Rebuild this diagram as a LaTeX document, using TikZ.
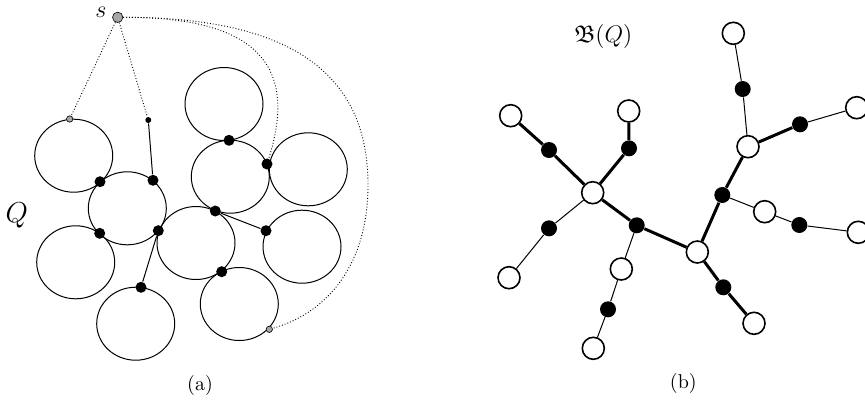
\documentclass[tikz,border=0pt]{standalone}
\usepackage{amsmath,amssymb}
\usepackage{tikz}
\usetikzlibrary{positioning}

\begin{document}
\begin{tikzpicture}[
  x=0.5pt, y=-0.5pt,
  blob/.style={line width=0.5pt},
  cut/.style={circle, fill=black, inner sep=0pt, minimum size=5.5pt},
  tip/.style={circle, fill=black, inner sep=0pt, minimum size=3pt},
  root/.style={circle, draw=black, fill=gray!70, line width=0.3pt, inner sep=0pt, minimum size=5.2pt},
  rtip/.style={root, minimum size=3.2pt},
  bnode/.style={circle, draw, fill=white, line width=0.8pt, inner sep=0pt, minimum size=11pt},
  cnode/.style={circle, fill=black, inner sep=0pt, minimum size=8pt},
  weak/.style={line width=0.5pt},
  strong/.style={line width=1.5pt},
  link/.style={densely dotted, line width=0.45pt},
  lab/.style={inner sep=1pt}
]
\clip (0,0) rectangle (865,402);
% (a): the blocks of Q
\foreach \cx/\cy in {73.7/155.7, 127.3/208.3, 75.7/262.3, 135.7/323.7, 196/243,
                     224/104, 230.3/176.7, 308.3/169.3, 302/246.7, 239.3/304}
  \draw[blob] (\cx,\cy) ellipse (39 and 36.5);
\node[root] (s) at (117.7,17.3) {};
\node[lab, font=\large] (slab) at (101,12.5) {$s$};
\node[lab, font=\Large] (Q) at (16.7,215) {$Q$};
\node[rtip] (g1) at (69.7,119) {};
\node[rtip] (g2) at (269.3,329.3) {};
\node[tip] (t1) at (148.3,120) {};
\node[cut] (d1) at (100,181.7) {};
\node[cut] (d2) at (153,180.3) {};
\node[cut] (d3) at (99.7,233.3) {};
\node[cut] (d4) at (158.3,230.7) {};
\node[cut] (d5) at (141,287.3) {};
\node[cut] (d6) at (229,140.3) {};
\node[cut] (d7) at (267,164) {};
\node[cut] (d8) at (215.3,211) {};
\node[cut] (d9) at (266,230.7) {};
\node[cut] (d10) at (221.7,271.7) {};
\draw[weak] (t1) -- (d2);
\draw[weak] (d4) -- (d5);
\draw[weak] (d8) -- (d9);
\draw[link] (s) -- (g1);
\draw[link] (s) -- (t1);
\draw[link] (s) .. controls (250,17) and (300,60) .. (d7);
\draw[link] (s) .. controls (300,17) and (368,80) .. (368,185)
                .. controls (368,262) and (330,312) .. (g2);
\node[lab] (capa) at (200,385) {(a)};
% (b): the block tree
\node[lab, font=\large] (BQ) at (603.3,36.7) {$\mathfrak{B}(Q)$};
\node[bnode] (w1) at (510.7,115.7) {};
\node[bnode] (w2) at (628.7,111) {};
\node[bnode] (w3) at (592.7,192.7) {};
\node[bnode] (w4) at (509,277.7) {};
\node[bnode] (w5) at (621.3,269) {};
\node[bnode] (w6) at (593.3,348.3) {};
\node[bnode] (w7) at (697.3,252) {};
\node[bnode] (w8) at (754,323.3) {};
\node[bnode] (w9) at (733.3,33.3) {};
\node[bnode] (w10) at (748,146.7) {};
\node[bnode] (w11) at (856.7,107.7) {};
\node[bnode] (w12) at (764.7,211.7) {};
\node[bnode] (w13) at (858.3,232.3) {};
\node[cnode] (c1) at (549,150) {};
\node[cnode] (c2) at (629,148.3) {};
\node[cnode] (c3) at (549,228.3) {};
\node[cnode] (c4) at (636.7,225.3) {};
\node[cnode] (c5) at (608,309.3) {};
\node[cnode] (c6) at (723.3,287.3) {};
\node[cnode] (c7) at (722.3,195) {};
\node[cnode] (c8) at (742.7,89) {};
\node[cnode] (c9) at (800,124.3) {};
\node[cnode] (c10) at (799.3,225) {};
\draw[strong] (w1) -- (c1) -- (w3);
\draw[strong] (w2) -- (c2) -- (w3);
\draw[strong] (w3) -- (c4) -- (w7);
\draw[strong] (w7) -- (c7) -- (w10);
\draw[strong] (w7) -- (c6) -- (w8);
\draw[strong] (w10) -- (c9);
\draw[weak] (c9) -- (w11);
\draw[weak] (w3) -- (c3) -- (w4);
\draw[weak] (c4) -- (w5) -- (c5) -- (w6);
\draw[weak] (w9) -- (c8) -- (w10);
\draw[weak] (c7) -- (w12) -- (c10) -- (w13);
\node[lab] (capb) at (683.3,383.3) {(b)};
\end{tikzpicture}
\end{document}
